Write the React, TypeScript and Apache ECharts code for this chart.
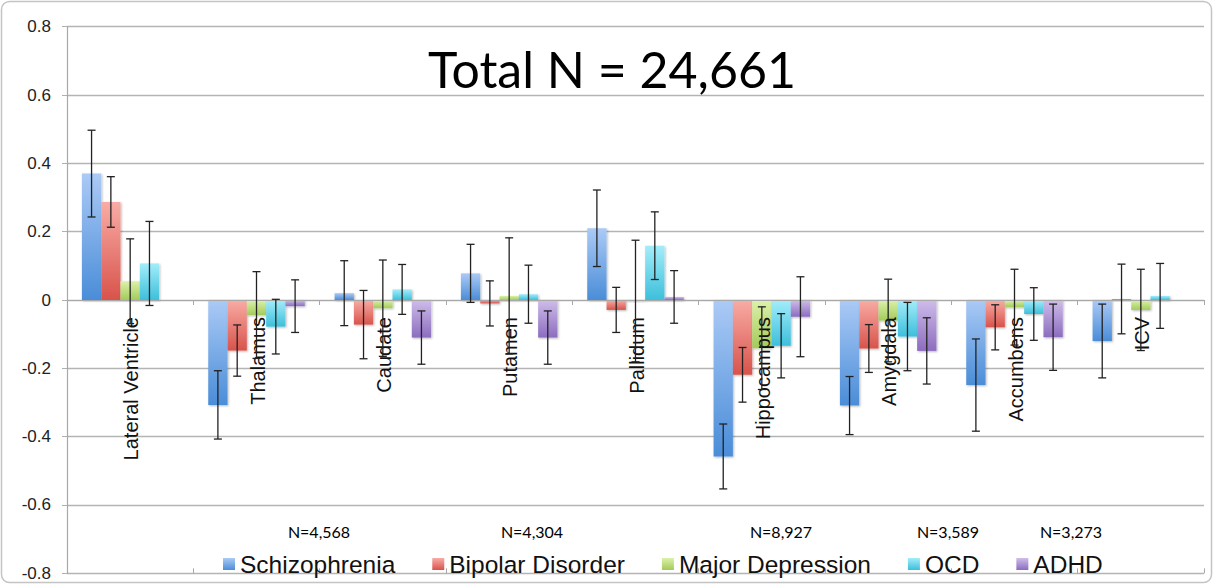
import React, { useEffect, useRef } from "react";
import * as echarts from "echarts";

// Brain regions along the category axis
const categories = [
  "Lateral Ventricle",
  "Thalamus",
  "Caudate",
  "Putamen",
  "Pallidum",
  "Hippocampus",
  "Amygdala",
  "Accumbens",
  "ICV",
];

// Effect sizes (Cohen's d) and their error half-widths per disorder
const schizophrenia = [0.37, -0.307, 0.02, 0.078, 0.21, -0.458, -0.309, -0.249, -0.12];
const schizophreniaErr = [0.127, 0.1, 0.095, 0.085, 0.112, 0.095, 0.085, 0.135, 0.108];

const bipolar = [0.287, -0.148, -0.072, -0.01, -0.029, -0.219, -0.142, -0.08, 0.003];
const bipolarErr = [0.074, 0.075, 0.1, 0.066, 0.066, 0.08, 0.07, 0.066, 0.102];

const depression = [0.055, -0.044, -0.024, 0.012, -0.003, -0.141, -0.06, -0.021, -0.029];
const depressionErr = [0.124, 0.127, 0.141, 0.17, 0.178, 0.121, 0.121, 0.111, 0.119];

const ocd = [0.107, -0.078, 0.031, 0.017, 0.159, -0.134, -0.107, -0.041, 0.012];
const ocdErr = [0.123, 0.08, 0.073, 0.085, 0.099, 0.094, 0.1, 0.077, 0.095];

const adhd = [0, -0.018, -0.11, -0.11, 0.009, -0.049, -0.149, -0.109, 0];
const adhdErr = [null, 0.077, 0.078, 0.078, 0.077, 0.117, 0.097, 0.097, null];

const seriesNames = ["Schizophrenia", "Bipolar Disorder", "Major Depression", "OCD", "ADHD"];
const sampleSizes = ["N=4,568", "N=4,304", "N=8,927", "N=3,589", "N=3,273"];
const totalLabel = "Total N = 24,661";

const yTicks = { min: -0.8, max: 0.8, interval: 0.2 };

const values = [schizophrenia, bipolar, depression, ocd, adhd];
const errors = [schizophreniaErr, bipolarErr, depressionErr, ocdErr, adhdErr];

// light (top) -> dark (bottom) fills
const gradients: [string, string][] = [
  ["#abcaf6", "#4a8dd8"],
  ["#f8aca5", "#d8534b"],
  ["#ddf1aa", "#a2cb5b"],
  ["#a3edfa", "#3dbfdb"],
  ["#cfbdea", "#8c6cbf"],
];

const CATEGORY_GAP = 0.236;
const SANS = "'Liberation Sans', Arial, sans-serif";
const CALIBRI_LIKE = "Lato, 'Open Sans', sans-serif";

// x centres of the sample-size captions, above each legend entry
const sampleSizeX = [319, 532, 781, 948, 1071];

function App() {
  const ref = useRef<HTMLDivElement>(null);

  useEffect(() => {
    if (!ref.current) return;
    const chart = echarts.init(ref.current, undefined, { renderer: "svg" });

    const barSeries = seriesNames.map((name, i) => ({
      name,
      type: "bar",
      data: values[i],
      barGap: "0%",
      barCategoryGap: `${CATEGORY_GAP * 100}%`,
      z: 2,
      itemStyle: {
        color: new echarts.graphic.LinearGradient(0, 0, 0, 1, [
          { offset: 0, color: gradients[i][0] },
          { offset: 1, color: gradients[i][1] },
        ]),
        shadowColor: "rgba(0,0,0,0.28)",
        shadowBlur: 2,
        shadowOffsetX: 1,
        shadowOffsetY: 1,
      },
    }));

    const errorSeries = seriesNames.map((name, i) => ({
      name: name + " error",
      type: "custom",
      silent: true,
      z: 6,
      data: values[i].map((v, c) => [c, v, errors[i][c]]),
      encode: { x: 0, y: 1 },
      renderItem: (_params: any, api: any) => {
        const err = api.value(2);
        if (err === null || err === undefined || isNaN(err) || err === 0) return null;
        const cat = api.value(0);
        const val = api.value(1);
        const catW = api.size([1, 0])[0];
        const bw = (catW * (1 - CATEGORY_GAP)) / seriesNames.length;
        const base = api.coord([cat, val]);
        const x = base[0] + (i - (seriesNames.length - 1) / 2) * bw;
        const yTop = api.coord([cat, val + err])[1];
        const yBot = api.coord([cat, val - err])[1];
        const cap = 4;
        const style = { stroke: "#222", lineWidth: 1.3 };
        return {
          type: "group",
          children: [
            { type: "line", shape: { x1: x, y1: yTop, x2: x, y2: yBot }, style },
            { type: "line", shape: { x1: x - cap, y1: yTop, x2: x + cap, y2: yTop }, style },
            { type: "line", shape: { x1: x - cap, y1: yBot, x2: x + cap, y2: yBot }, style },
          ],
        };
      },
    }));

    // region names hang below the zero line, rotated to read bottom-to-top
    const regionLabels = {
      name: "region labels",
      type: "custom",
      silent: true,
      z: 4,
      data: categories.map((_c, idx) => [idx, 0]),
      encode: { x: 0, y: 1 },
      renderItem: (_params: any, api: any) => {
        const idx = api.value(0);
        const p = api.coord([idx, 0]);
        return {
          type: "text",
          x: p[0] + 1,
          y: p[1] + 17,
          rotation: Math.PI / 2,
          style: {
            text: categories[idx],
            font: `20px ${SANS}`,
            fill: "#111",
            align: "right",
            verticalAlign: "middle",
          },
        };
      },
    };

    const graphics: any[] = [
      {
        type: "rect",
        shape: { x: 1.5, y: 1.5, width: 1210, height: 581, r: 8 },
        style: { fill: "none", stroke: "#c4c4c4", lineWidth: 1.5 },
        z: 0,
      },
      {
        type: "text",
        x: 612,
        y: 69,
        z: 10,
        style: {
          text: totalLabel,
          font: `50px ${CALIBRI_LIKE}`,
          fill: "#000",
          align: "center",
          verticalAlign: "middle",
        },
      },
      ...sampleSizes.map((t, i) => ({
        type: "text",
        x: sampleSizeX[i],
        y: 531,
        z: 10,
        style: {
          text: t,
          font: `16px ${CALIBRI_LIKE}`,
          fill: "#000",
          align: "center",
          verticalAlign: "middle",
        },
      })),
    ];

    chart.setOption({
      animation: false,
      backgroundColor: "#fff",
      grid: {
        left: 67,
        right: 10,
        top: 26.7,
        bottom: 12.7,
        containLabel: false,
        outerBoundsMode: "none",
      },
      legend: {
        data: seriesNames,
        left: 218,
        top: 546,
        icon: "rect",
        itemWidth: 12,
        itemHeight: 12,
        itemGap: 37,
        textStyle: { fontSize: 24.5, fontFamily: SANS, color: "#111", lineHeight: 26 },
      },
      xAxis: [
        {
          type: "category",
          data: categories,
          position: "bottom",
          z: 3,
          axisLine: { onZero: true, lineStyle: { color: "#a8a8a8", width: 1.2 } },
          axisTick: { show: true, length: 5, lineStyle: { color: "#a8a8a8" } },
          axisLabel: { show: false },
          splitLine: { show: false },
        },
        {
          type: "category",
          data: categories,
          position: "bottom",
          z: 3,
          axisLine: { show: false, onZero: true },
          axisTick: { show: true, inside: true, length: 5, lineStyle: { color: "#a8a8a8" } },
          axisLabel: { show: false },
          splitLine: { show: false },
        },
      ],
      yAxis: {
        type: "value",
        min: yTicks.min,
        max: yTicks.max,
        interval: yTicks.interval,
        axisLine: { show: true, lineStyle: { color: "#a8a8a8", width: 1.2 } },
        axisTick: { show: true, length: 5, lineStyle: { color: "#b0b0b0" } },
        axisLabel: {
          fontSize: 17,
          fontFamily: SANS,
          color: "#222",
          margin: 16,
          formatter: (v: number) => String(Math.round(v * 10) / 10),
        },
        splitLine: { show: true, lineStyle: { color: "#b4b4b4", width: 1.3 } },
      },
      series: [...barSeries, regionLabels, ...errorSeries],
      graphic: graphics,
    });

    return () => chart.dispose();
  }, []);

  return (
    <div
      ref={ref}
      style={{ position: "absolute", left: 0, top: 0, width: 1214, height: 586 }}
    />
  );
}

export default App;
